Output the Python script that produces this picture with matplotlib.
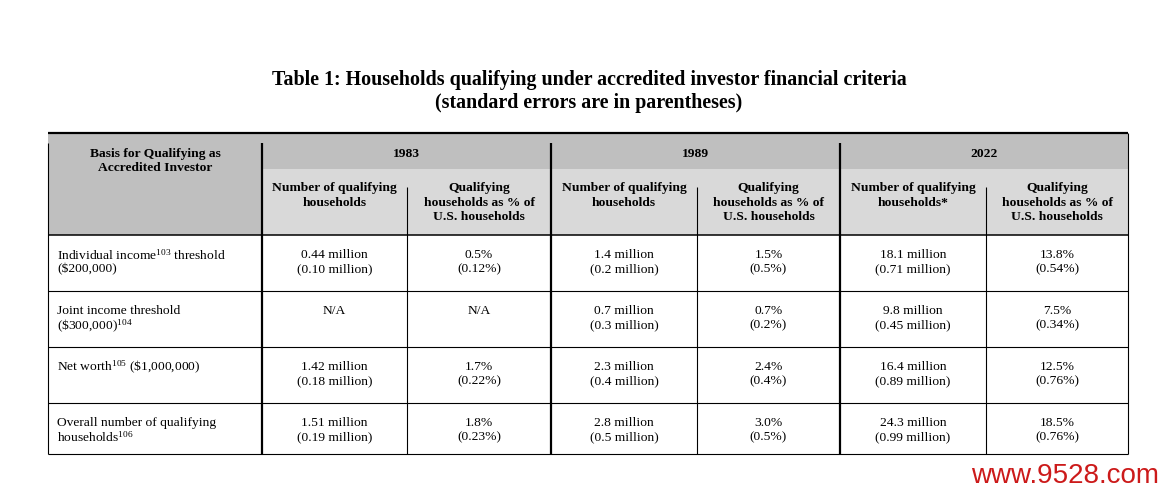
import matplotlib
matplotlib.use("Agg")
import matplotlib.pyplot as plt
from matplotlib.patches import Rectangle

plt.rcParams['mathtext.fontset'] = 'custom'
plt.rcParams['mathtext.rm'] = 'Liberation Serif'
plt.rcParams['mathtext.it'] = 'Liberation Serif:italic'
plt.rcParams['mathtext.bf'] = 'Liberation Serif:bold'

# ---------------- data ----------------
title_lines = ["Table 1: Households qualifying under accredited investor financial criteria",
               "(standard errors are in parentheses)"]
corner_header = ["Basis for Qualifying as", "Accredited Investor"]
years = ["1983", "1989", "2022"]
sub_headers = [
    ["Number of qualifying", "households"],
    ["Qualifying", "households as % of", "U.S. households"],
    ["Number of qualifying", "households"],
    ["Qualifying", "households as % of", "U.S. households"],
    ["Number of qualifying", "households*"],
    ["Qualifying", "households as % of", "U.S. households"],
]
row_labels = [
    ["Individual income$^{\\mathrm{103}}$ threshold", "(\\$200,000)"],
    ["Joint income threshold", "(\\$300,000)$^{\\mathrm{104}}$"],
    ["Net worth$^{\\mathrm{105}}$ (\\$1,000,000)"],
    ["Overall number of qualifying", "households$^{\\mathrm{106}}$"],
]
count_1983 = ["0.44 million", "N/A", "1.42 million", "1.51 million"]
count_se_1983 = ["(0.10 million)", "", "(0.18 million)", "(0.19 million)"]
pct_1983 = ["0.5%", "N/A", "1.7%", "1.8%"]
pct_se_1983 = ["(0.12%)", "", "(0.22%)", "(0.23%)"]
count_1989 = ["1.4 million", "0.7 million", "2.3 million", "2.8 million"]
count_se_1989 = ["(0.2 million)", "(0.3 million)", "(0.4 million)", "(0.5 million)"]
pct_1989 = ["1.5%", "0.7%", "2.4%", "3.0%"]
pct_se_1989 = ["(0.5%)", "(0.2%)", "(0.4%)", "(0.5%)"]
count_2022 = ["18.1 million", "9.8 million", "16.4 million", "24.3 million"]
count_se_2022 = ["(0.71 million)", "(0.45 million)", "(0.89 million)", "(0.99 million)"]
pct_2022 = ["13.8%", "7.5%", "12.5%", "18.5%"]
pct_se_2022 = ["(0.54%)", "(0.34%)", "(0.76%)", "(0.76%)"]
watermark = "www.9528.com"

# ---------------- layout ----------------
W, H = 1166, 494
fig = plt.figure(figsize=(W / 100, H / 100), dpi=100)
ax = fig.add_axes([0, 0, 1, 1])
ax.set_xlim(0, W)
ax.set_ylim(H, 0)
ax.axis('off')

serif = 'Liberation Serif'
fs = 9.7
black = '#000000'
dark_grey = '#bfbfbf'
light_grey = '#d9d9d9'

x_left, x_right = 48, 1128
col_edges = [48, 262, 407, 551, 697, 840, 986, 1128]
y_top, y_sub, y_head_bot = 133, 169, 235
row_tops = [235, 291, 347, 403]
y_bot = 454

# title
ax.text(589, 80, title_lines[0], ha='center', va='center', family=serif,
        fontweight='bold', fontsize=14.4, color=black)
ax.text(589, 103, title_lines[1], ha='center', va='center', family=serif,
        fontweight='bold', fontsize=14.4, color=black)

# header backgrounds
ax.add_patch(Rectangle((x_left, y_top), x_right - x_left, y_head_bot - y_top,
                       facecolor=dark_grey, edgecolor='none', zorder=0))
ax.add_patch(Rectangle((col_edges[1], y_sub), x_right - col_edges[1], y_head_bot - y_sub,
                       facecolor=light_grey, edgecolor='none', zorder=0))

# corner header
ax.text((col_edges[0] + col_edges[1]) / 2, 153.5, corner_header[0], ha='center', va='center',
        family=serif, fontweight='bold', fontsize=fs)
ax.text((col_edges[0] + col_edges[1]) / 2, 167.5, corner_header[1], ha='center', va='center',
        family=serif, fontweight='bold', fontsize=fs)

# years
for i, yr in enumerate(years):
    xc = (col_edges[1 + 2 * i] + col_edges[3 + 2 * i]) / 2
    ax.text(xc, 153.5, yr, ha='center', va='center', family=serif, fontweight='bold', fontsize=fs)

# sub headers
for j, lines in enumerate(sub_headers):
    xc = (col_edges[1 + j] + col_edges[2 + j]) / 2
    for k, ln in enumerate(lines):
        ax.text(xc, 188 + k * 14.5, ln, ha='center', va='center', family=serif,
                fontweight='bold', fontsize=fs)

# body
columns = [
    (count_1983, count_se_1983), (pct_1983, pct_se_1983),
    (count_1989, count_se_1989), (pct_1989, pct_se_1989),
    (count_2022, count_se_2022), (pct_2022, pct_se_2022),
]
for r, top in enumerate(row_tops):
    for k, ln in enumerate(row_labels[r]):
        ax.text(57, top + 20 + k * 14.5, ln, ha='left', va='center', family=serif, fontsize=fs)
    for j, (vals, ses) in enumerate(columns):
        xc = (col_edges[1 + j] + col_edges[2 + j]) / 2
        ax.text(xc, top + 20, vals[r], ha='center', va='center', family=serif, fontsize=fs)
        if ses[r]:
            ax.text(xc, top + 34.5, ses[r], ha='center', va='center', family=serif, fontsize=fs)

# lines
thick = 1.6
thin = 0.8
ax.plot([x_left, x_right], [y_top, y_top], color=black, lw=thick, solid_capstyle='butt')
ax.plot([x_left, x_right], [y_head_bot, y_head_bot], color=black, lw=1.1, solid_capstyle='butt')
for yt in row_tops[1:] + [y_bot]:
    ax.plot([x_left, x_right], [yt, yt], color=black, lw=thin, solid_capstyle='butt')
ax.plot([x_left, x_left], [143, y_bot], color=black, lw=thin, solid_capstyle='butt')
ax.plot([x_right, x_right], [y_top, y_bot], color=black, lw=thin, solid_capstyle='butt')
for xv in [col_edges[1], col_edges[3], col_edges[5]]:
    ax.plot([xv, xv], [143, y_bot], color=black, lw=thick, solid_capstyle='butt')
for xv in [col_edges[2], col_edges[4], col_edges[6]]:
    ax.plot([xv, xv], [187, y_bot], color=black, lw=thin, solid_capstyle='butt')

# watermark
ax.text(1065, 476, watermark, ha='center', va='center', family='Liberation Sans',
        fontsize=20, color='#cc1a1a')

fig.savefig('out.png', dpi=100, facecolor='white')
